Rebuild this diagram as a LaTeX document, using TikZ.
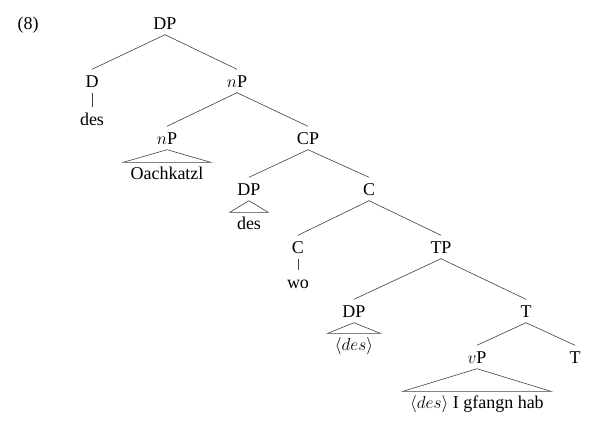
\documentclass[tikz,border=0pt]{standalone}
\usepackage{fontspec}
\setmainfont{Liberation Serif}
\begin{document}
\begin{tikzpicture}[x=1pt,y={(0pt,-1pt)},
  lbl/.style={font=\fontsize{18}{22}\selectfont, anchor=base, text height=12pt, text depth=0pt, inner xsep=0pt, inner ysep=5.5pt},
  leaf/.style={lbl, inner xsep=7pt, inner ysep=4.5pt},
  edge/.style={draw=black!75, line width=0.6pt},
]
\useasboundingbox (0,0) rectangle (611,423);
\node[lbl] (ex) at (28,29) {(8)};
\node[lbl] (DP0) at (165,29) {DP};
\node[lbl] (D) at (92,87) {D};
\node[lbl] (des1) at (92,125) {des};
\node[lbl] (nP) at (237,87) {$n$P};
\node[lbl] (nP2) at (167,144) {$n$P};
\node[leaf] (oach) at (167,179) {Oachkatzl};
\node[lbl] (CP) at (308,144) {CP};
\node[lbl] (DP3) at (249,195) {DP};
\node[leaf] (des3) at (249,229) {des};
\node[lbl] (C1) at (369,195) {C};
\node[lbl] (C2) at (298,253) {C};
\node[lbl] (wo) at (298,288) {wo};
\node[lbl] (TP) at (441,253) {TP};
\node[lbl] (DP4) at (354,317) {DP};
\node[leaf] (des4) at (354,350) {$\langle des\rangle$};
\node[lbl] (T1) at (526,317) {T};
\node[lbl] (vP) at (477,363) {$v$P};
\node[leaf] (vleaf) at (477,408) {$\langle des\rangle$ I gfangn hab};
\node[lbl] (T2) at (575,363) {T};

\draw[edge] (DP0.south) -- (D.north);
\draw[edge] (DP0.south) -- (nP.north);
\draw[edge] (D.south) -- (des1.north);
\draw[edge] (nP.south) -- (nP2.north);
\draw[edge] (nP.south) -- (CP.north);
\draw[edge] (nP2.south) -- (oach.north west) -- (oach.north east) -- cycle;
\draw[edge] (CP.south) -- (DP3.north);
\draw[edge] (CP.south) -- (C1.north);
\draw[edge] (DP3.south) -- (des3.north west) -- (des3.north east) -- cycle;
\draw[edge] (C1.south) -- (C2.north);
\draw[edge] (C1.south) -- (TP.north);
\draw[edge] (C2.south) -- (wo.north);
\draw[edge] (TP.south) -- (DP4.north);
\draw[edge] (TP.south) -- (T1.north);
\draw[edge] (DP4.south) -- (des4.north west) -- (des4.north east) -- cycle;
\draw[edge] (T1.south) -- (vP.north);
\draw[edge] (T1.south) -- (T2.north);
\draw[edge] (vP.south) -- (vleaf.north west) -- (vleaf.north east) -- cycle;
\end{tikzpicture}
\end{document}
